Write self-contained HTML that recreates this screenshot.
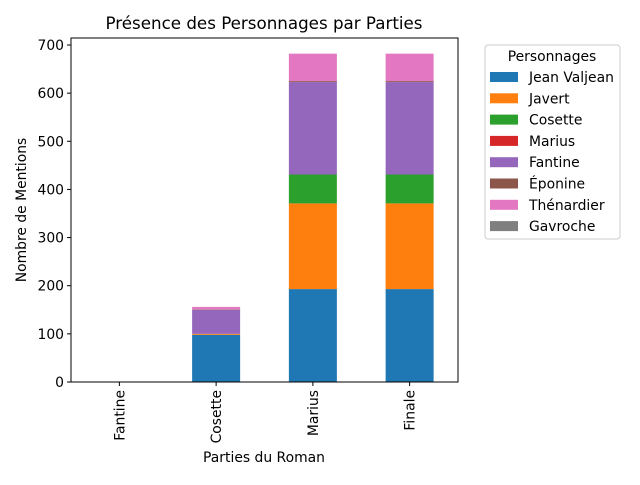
<!DOCTYPE html>
<html><head><meta charset="utf-8"><style>
body{margin:0;background:#fff;font-family:"Liberation Sans","DejaVu Sans",sans-serif}
svg text{font-family:"DejaVu Sans","Liberation Sans",sans-serif}
</style></head><body>
<svg id="chart" width="640" height="480" xmlns="http://www.w3.org/2000/svg"></svg>
<script>
const categories=["Fantine","Cosette","Marius","Finale"];
const seriesNames=["Jean Valjean","Javert","Cosette","Marius","Fantine","Éponine","Thénardier","Gavroche"];
const colors=["#1f77b4","#ff7f0e","#2ca02c","#d62728","#9467bd","#8c564b","#e377c2","#7f7f7f"];
const jeanValjean=[0,98,193,193];
const javert=[0,2,178,178];
const cosette=[0,0,60,60];
const marius=[0,0,0,0];
const fantine=[0,50,192,192];
const eponine=[0,1,2,2];
const thenardier=[0,5,57,57];
const gavroche=[0,0,0,0];
const yTicks=[0,100,200,300,400,500,600,700];
const series=[jeanValjean,javert,cosette,marius,fantine,eponine,thenardier,gavroche];
const svg=document.getElementById('chart');
const NS="http://www.w3.org/2000/svg";
const L=71,R=458,T=38,B=382;
const y=v=>B-v*(B-45)/700;
const step=(R-L)/4;
const x=i=>L+step*(i+0.5);
const bw=48;
function mk(t,a,txt){const e=document.createElementNS(NS,t);for(const k in a)e.setAttribute(k,a[k]);if(txt!==undefined)e.textContent=txt;svg.appendChild(e);return e;}
let e=mk('text',{x:264,y:29,'text-anchor':'middle','style':'font-size:16.7px'},'Présence des Personnages par Parties');


categories.forEach((c,i)=>{let base=0;series.forEach((s,k)=>{const v=s[i];if(v>0){const r=mk('rect',{x:x(i)-bw/2,y:y(base+v),width:bw,height:y(base)-y(base+v),fill:colors[k]});

}base+=v;});});
e=mk('rect',{x:L,y:T,width:R-L,height:B-T,fill:'none',stroke:'#000','stroke-width':1});


yTicks.forEach(t=>{mk('line',{x1:L-4,x2:L,y1:y(t),y2:y(t),stroke:'#000'});
const tx=mk('text',{x:L-7,y:y(t)+5,'text-anchor':'end','style':'font-size:13.9px'},t);

});
categories.forEach((c,i)=>{mk('line',{x1:x(i),x2:x(i),y1:B,y2:B+4,stroke:'#000'});
const tx=mk('text',{transform:`translate(${x(i)+5},${B+8}) rotate(-90)`,'text-anchor':'end','style':'font-size:13.9px'},c);

});
e=mk('text',{x:264,y:462,'text-anchor':'middle','style':'font-size:13.9px'},'Parties du Roman');


e=mk('text',{transform:'translate(26,210) rotate(-90)','text-anchor':'middle','style':'font-size:13.9px'},'Nombre de Mentions');


e=mk('rect',{x:485,y:45,width:135,height:194,rx:3,fill:'#fff',stroke:'#ccc'});


e=mk('text',{x:552,y:61,'text-anchor':'middle','style':'font-size:13.9px'},'Personnages');


seriesNames.forEach((n,k)=>{const yy=77+k*21.3;
const r=mk('rect',{x:490,y:yy-5,width:28,height:10,fill:colors[k]});


const t=mk('text',{x:529,y:yy+5,'style':'font-size:13.9px'},n);

});
</script>
</body></html>
